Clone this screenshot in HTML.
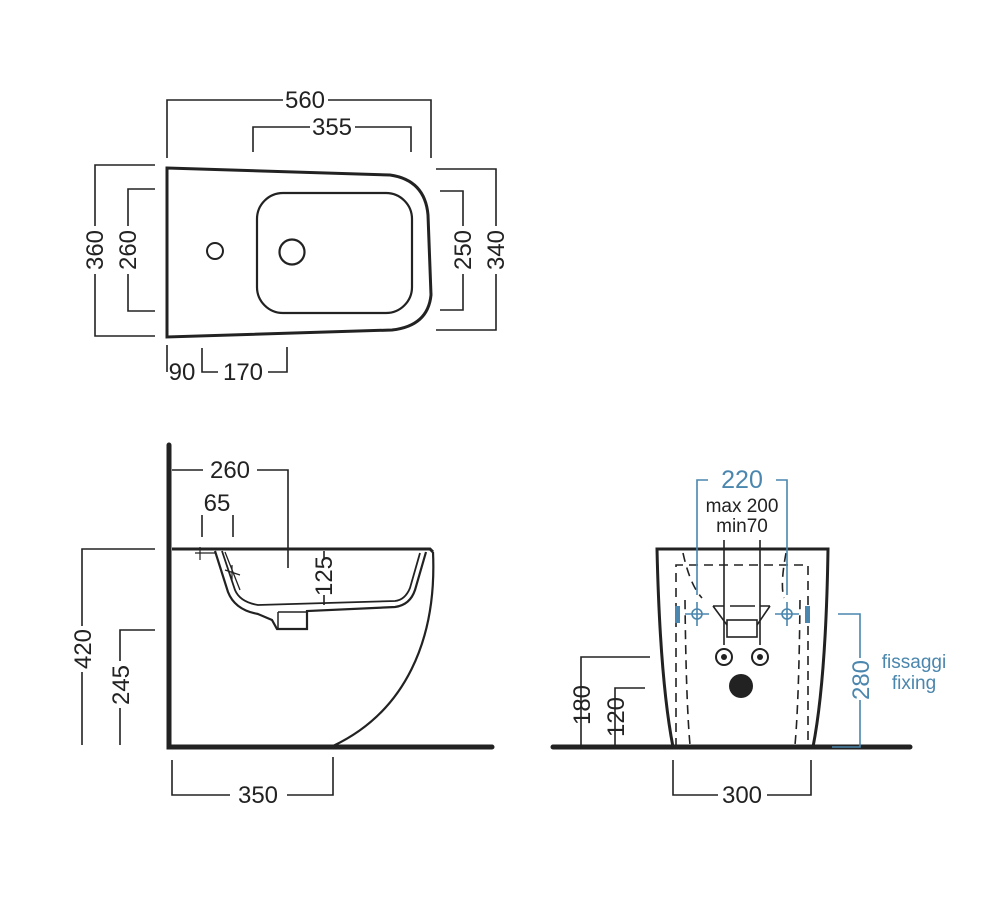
<!DOCTYPE html>
<html><head><meta charset="utf-8"><style>
html,body{margin:0;padding:0;background:#fff;}
svg{display:block;}
text{font-family:"Liberation Sans",Arial,sans-serif;fill:#222;}
.b{fill:#4a86ad;}
</style></head><body>
<svg width="1000" height="921" viewBox="0 0 1000 921" xmlns="http://www.w3.org/2000/svg">
<g fill="none" stroke="#222" stroke-width="1.6">
<path d="M167,168 L390,175 Q425,180 428,215 L431,295 Q428,326 392,330 L167,337 Z" stroke-width="3"/>
<rect x="257" y="193" width="155" height="120" rx="26" stroke-width="2.2"/>
<circle cx="215" cy="251" r="8" stroke-width="2"/>
<circle cx="292" cy="252" r="12.5" stroke-width="2.2"/>
<path d="M167,158 V100 H283 M328,100 H431 V158"/>
<path d="M253,152 V127 H310 M355,127 H411 V152"/>
<path d="M155,165 H95 V226 M95,274 V336 H155"/>
<path d="M155,189 H128 V226 M128,274 V311 H155"/>
<path d="M440,191 H463 V226 M463,274 V310 H440"/>
<path d="M436,169 H496 V226 M496,274 V330 H436"/>
<path d="M167,345 V372 M202,348 V372 H218 M268,372 H287 V347"/>
</g>
<g font-size="24">
<text x="305" y="108" text-anchor="middle">560</text>
<text x="332" y="135" text-anchor="middle">355</text>
<text transform="translate(103,250) rotate(-90)" text-anchor="middle">360</text>
<text transform="translate(136,250) rotate(-90)" text-anchor="middle">260</text>
<text transform="translate(471,250) rotate(-90)" text-anchor="middle">250</text>
<text transform="translate(504,250) rotate(-90)" text-anchor="middle">340</text>
<text x="182" y="380" text-anchor="middle">90</text>
<text x="243" y="380" text-anchor="middle">170</text>
</g>

<g fill="none" stroke="#222" stroke-width="1.6">
<path d="M169,445 V747 H492" stroke-width="5" stroke-linecap="round"/>
<path d="M172,549 H430 L433,552" stroke-width="3"/>
<path d="M433,552 C437,640 405,712 333,746" stroke-width="2.2"/>
<path d="M215,551 L228,592 Q235,610 258,614 L272,620 L277,629 L307,629 L307,611 L395,607 Q410,605 415,590 L426,552" stroke-width="2.2"/>
<path d="M222,551 L235,590 Q240,602 258,605 L395,601 Q405,600 410,588 L420,553" stroke-width="1.8"/>
<path d="M278,612 H307 M278,612 V629" stroke-width="1.5"/>
<path d="M225,552 L240,590" stroke-width="1.3"/>
<path d="M172,470 H203 M257,470 H288 V568"/>
<path d="M202,515 V537 M233,515 V537" />
<path d="M195,553 H215 M200,547 V560 M225,570 L240,575 M232,565 V580" stroke-width="1.2"/>
<path d="M324,551 V558 M324,595 V605"/>
<path d="M155,549 H82 V626 M82,672 V745"/>
<path d="M155,630 H120 V661 M120,708 V745"/>
<path d="M172,760 V795 H230 M287,795 H333 V757"/>
</g>
<g font-size="24">
<text x="230" y="478" text-anchor="middle">260</text>
<text x="217" y="511" text-anchor="middle">65</text>
<text transform="translate(332,576) rotate(-90)" text-anchor="middle">125</text>
<text transform="translate(91,649) rotate(-90)" text-anchor="middle">420</text>
<text transform="translate(129,685) rotate(-90)" text-anchor="middle">245</text>
<text x="258" y="803" text-anchor="middle">350</text>
</g>

<g fill="none" stroke="#222" stroke-width="1.6">
<path d="M553,747 H910" stroke-width="5" stroke-linecap="round"/>
<path d="M673,747 Q660,680 657,549 H828 Q826,680 813,747" stroke-width="3"/>
<path d="M676,747 V565 H808 V747" stroke-dasharray="9,6"/>
<path d="M683,553 Q690,585 702,598 M786,553 Q780,585 784,598" stroke-dasharray="9,6"/>
<path d="M685,600 Q686,700 690,745 M800,600 Q799,700 795,745" stroke-dasharray="9,6"/>
<path d="M724,540 V645 M760,540 V645"/>
<path d="M713,606 L727,625 M770,606 L757,625 M713,606 H724 M760,606 H770 M730,606 H755" />
<rect x="727" y="620" width="30" height="17"/>
<circle cx="724" cy="657" r="8" stroke-width="2"/>
<circle cx="760" cy="657" r="8" stroke-width="2"/>
<path d="M650,657 H581 V745 M645,688 H615 V745"/>
<path d="M673,760 V795 H718 M767,795 H811 V760"/>
</g>
<circle cx="724" cy="657" r="3" fill="#222"/>
<circle cx="760" cy="657" r="3" fill="#222"/>
<circle cx="741" cy="686" r="12" fill="#222"/>
<g fill="none" stroke="#4a86ad" stroke-width="1.6">
<path d="M708,480 H697 V595 M776,480 H787 V595"/>
<circle cx="697" cy="614" r="5"/><circle cx="787" cy="614" r="5"/>
<path d="M685,614 H709 M697,602 V626 M775,614 H799 M787,602 V626"/>
<path d="M838,614 H860 V658 M860,700 V747 H832"/>
</g>
<rect x="675" y="606" width="5" height="17" fill="#4a86ad"/>
<rect x="805" y="606" width="5" height="17" fill="#4a86ad"/>
<g font-size="24">
<text class="b" x="742" y="488" text-anchor="middle" font-size="25">220</text>
<text x="742" y="512" text-anchor="middle" font-size="19">max 200</text>
<text x="742" y="532" text-anchor="middle" font-size="19">min70</text>
<text class="b" transform="translate(869,680) rotate(-90)" text-anchor="middle">280</text>
<text class="b" x="914" y="668" text-anchor="middle" font-size="19">fissaggi</text>
<text class="b" x="914" y="689" text-anchor="middle" font-size="19">fixing</text>
<text transform="translate(590,705) rotate(-90)" text-anchor="middle">180</text>
<text transform="translate(624,717) rotate(-90)" text-anchor="middle">120</text>
<text x="742" y="803" text-anchor="middle">300</text>
</g>
</svg>
</body></html>
